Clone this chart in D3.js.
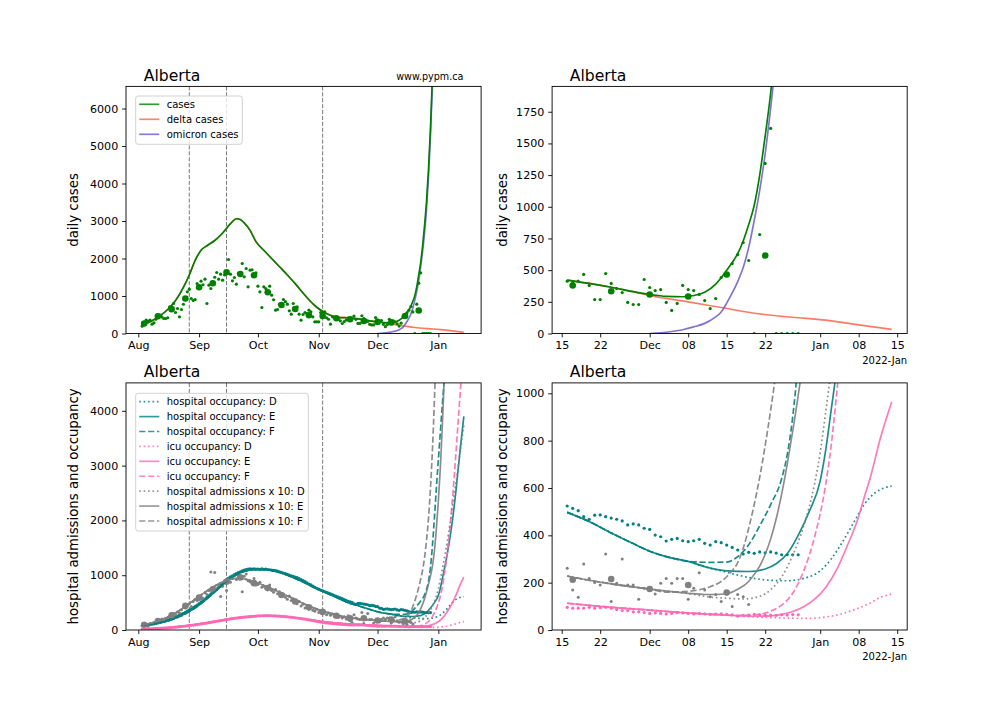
<!DOCTYPE html>
<html><head><meta charset="utf-8">
<script src="https://cdn.jsdelivr.net/npm/d3@7"></script>
<style>body{margin:0;background:#fff}svg{display:block}text{font-family:"DejaVu Sans",sans-serif}</style>
</head><body><svg id="c" width="1008" height="720"></svg>
<script>
// ---------------- DATA ----------------
const region = "Alberta";
const casesStart = "08-03";
const casesDaily = [196,280,356,330,356,249,284,380,462,489,445,400,400,420,711,660,800,560,667,445,640,780,935,1111,1182,933,880,907,1333,
1230,1396,1300,1449,800,1289,1200,1380,1500,1627,1449,1582,1422,1560,1620,1973,1582,1404,1493,1316,1600,1560,1867,1511,1733,1244,1689,1700,1555,1618,
1262,1111,693,1244,1200,1095,1262,1022,900,622,640,782,755,907,850,782,604,516,800,650,711,516,356,507,560,533,622,578,444,311,311,
311,560,540,578,420,380,249,444,420,400,400,338,267,320,360,413,400,413,466,379,268,268,473,395,355,323,245,229,229,426,
363,339,347,245,182,237,379,347,339,308,260,197,276,442,470,552,623,718,576,0,781,1342,1618,0,0,0,0,0];
const casesWeeklyStart = "08-04";
const casesWeekly = [266,461,650,933,1235,1340,1635,1585,1555,1100,760,655,488,465,405,379,334,308,292,466,615];
const casesFit = [["08-03",221],["08-08",340],["08-12",470],["08-16",640],["08-20",880],["08-24",1230],["08-27",1560],["08-30",1950],["09-02",2220],["09-05",2340],["09-09",2480],["09-13",2680],["09-17",2930],["09-20",3060],["09-22",3040],["09-24",2950],["09-27",2750],["09-30",2450],["10-04",2220],["10-08",2000],["10-12",1780],["10-16",1560],["10-20",1330],["10-24",1080],["10-27",900],["10-31",700],["11-04",560],["11-08",465],["11-12",425],["11-16",421],["11-20",395],["11-24",365],["11-28",330]];
const casesTail = [["12-01",308],["12-04",293],["12-07",290],["12-09",300],["12-11",325],["12-13",390],["12-14",440],["12-15",500],["12-16",560],["12-17",630],["12-18",730],["12-19",860],["12-20",1010],["12-21",1250],["12-22",1560],["12-23",1900],["12-24",2350],["12-25",2900],["12-26",3550],["12-27",4400],["12-28",5500],["12-29",6900],["12-30",8600]];
const deltaTail = [["12-01",300],["12-08",250],["12-14",205],["12-20",160],["12-27",128],["01-02",105],["01-08",68],["01-14",32]];
const omicron = [["12-01",0],["12-03",6],["12-05",16],["12-07",30],["12-09",52],["12-11",80],["12-12",102],["12-13",131],["12-14",170],["12-15",240],["12-16",320],["12-17",410],["12-18",520],["12-19",680],["12-20",890],["12-21",1130],["12-22",1420],["12-23",1780],["12-24",2200],["12-25",2700],["12-26",3350],["12-27",4200],["12-28",5300],["12-29",6650],["12-30",8400]];

const hospStart = "08-03";
const hospDaily = [78,84,88,95,100,107,112,120,128,138,150,160,170,182,195,208,222,238,255,274,290,306,324,345,365,388,410,432,455,
480,508,535,565,598,630,660,690,722,752,780,815,850,885,920,945,968,990,1010,1030,1048,1062,1080,1095,1102,1110,1115,1112,1118,1110,
1112,1105,1115,1108,1112,1104,1100,1095,1090,1082,1075,1062,1050,1040,1028,1015,1002,990,978,966,955,938,920,902,885,862,840,822,800,780,762,
745,730,716,702,688,672,658,645,630,615,602,588,572,556,540,524,514,504,479,468,485,486,479,473,468,461,444,448,444,430,
425,401,394,376,383,387,377,373,377,383,366,359,373,369,359,349,338,321,328,324,330,326,330,325,318,318,318,318];
const icuDaily = [15,17,18,20,21,23,25,27,29,31,33,35,38,40,43,46,50,53,56,60,64,68,72,76,80,85,90,95,100,
105,110,116,122,128,134,140,147,154,160,166,172,178,184,190,196,202,208,213,218,222,227,231,235,239,242,245,248,250,252,
258,259,260,261,262,262,261,260,258,256,254,252,249,246,243,240,236,232,228,224,219,214,209,203,197,191,185,179,172,165,158,
152,146,140,135,130,126,122,118,114,111,108,105,102,100,98,96,92,92,92,96,92,94,96,92,87,82,82,77,77,73,
70,72,70,68,70,73,72,70,68,70,68,66,67,68,66,64,58,62,63,66,64,62,63,62,64,63,65,64];
const admDaily = [80,110,95,70,120,105,130,150,140,180,200,160,210,230,250,240,300,280,330,310,370,420,400,450,480,430,520,560,540,
600,620,580,680,650,720,1060,780,1050,740,820,610,800,900,720,930,870,960,990,920,1000,950,700,980,1020,900,880,860,940,820,
830,870,780,800,760,740,820,720,690,740,660,700,630,650,600,560,620,540,570,500,480,520,440,470,400,430,380,420,360,340,380,
320,350,300,330,280,310,270,290,250,270,230,250,220,240,200,261,169,138,279,218,201,190,321,120,197,300,190,190,130,176,
169,152,197,218,197,218,218,130,176,242,169,140,150,120,162,99,150,141,108];
const admWeeklyStart = "08-04";
const admWeekly = [95,165,270,440,590,745,880,960,855,765,640,520,415,330,260,212,215,173,190,158];

const hospFit = [["08-03",90],["08-10",120],["08-17",175],["08-22",245],["08-27",335],["09-01",455],["09-06",600],["09-11",760],["09-15",890],["09-20",1010],["09-25",1080],["09-30",1105],["10-05",1100],["10-10",1070],["10-15",1015],["10-20",940],["10-25",860],["10-30",770],["11-04",690],["11-09",610],["11-13",545],["11-16",497],["11-20",458],["11-24",410],["11-28",365],["12-01",333],["12-04",310],["12-08",290]];
const hospD = [["12-11",267],["12-14",250],["12-17",232],["12-20",218],["12-23",210],["12-26",208],["12-29",218],["01-01",250],["01-03",300],["01-05",370],["01-07",450],["01-09",530],["01-11",580],["01-13",603],["01-14",608]];
const hospE = [["12-11",268],["12-15",250],["12-19",247],["12-22",258],["12-24",280],["12-26",322],["12-28",400],["12-30",500],["01-01",630],["01-02",760],["01-03",930],["01-04",1100],["01-06",1480],["01-08",1950],["01-10",2550],["01-12",3250],["01-14",3900]];
const hospF = [["12-12",286],["12-15",287],["12-17",310],["12-19",360],["12-21",440],["12-23",530],["12-25",640],["12-26",740],["12-27",900],["12-28",1150],["12-29",1550],["12-30",2050],["12-31",2600],["01-01",3100],["01-02",3600],["01-03",4100],["01-04",4550],["01-05",5000]];
const icuFit = [["08-03",18],["08-10",28],["08-17",45],["08-24",72],["08-31",105],["09-07",145],["09-14",188],["09-21",225],["09-28",250],["10-05",260],["10-12",252],["10-19",228],["10-26",195],["11-02",160],["11-09",132],["11-16",113],["11-22",100],["12-01",84],["12-08",72],["12-15",63]];
const icuD = [["12-20",55],["12-25",51],["12-30",49],["01-02",55],["01-04",63],["01-07",84],["01-10",113],["01-12",138],["01-14",152]];
const icuE = [["12-20",58],["12-23",60],["12-25",66],["12-27",78],["12-29",98],["12-31",130],["01-02",180],["01-04",255],["01-06",360],["01-08",480],["01-09",560],["01-10",635],["01-12",815],["01-14",964]];
const icuF = [["12-18",62],["12-21",66],["12-23",80],["12-25",105],["12-27",155],["12-29",250],["12-31",395],["01-02",615],["01-03",780],["01-04",1000],["01-05",1250],["01-06",1550],["01-07",1900],["01-08",2300],["01-09",2750],["01-10",3250],["01-11",3750],["01-12",4250],["01-13",4750],["01-14",5300]];
const admFit = [["08-03",95],["08-08",130],["08-13",190],["08-18",270],["08-23",380],["08-28",510],["09-02",640],["09-07",760],["09-12",860],["09-17",925],["09-21",945],["09-25",925],["09-30",870],["10-05",800],["10-10",720],["10-15",640],["10-20",555],["10-25",470],["10-30",395],["11-04",335],["11-09",285],["11-13",250],["11-16",228],["11-20",210],["11-24",195],["11-28",182],["12-01",173]];
const admD = [["12-05",162],["12-08",155],["12-10",146],["12-12",139],["12-15",134],["12-18",131],["12-21",142],["12-23",170],["12-25",225],["12-27",315],["12-29",440],["12-31",620],["01-01",750],["01-02",920],["01-03",1100],["01-04",1300],["01-05",1500],["01-06",1720],["01-07",1950],["01-08",2200],["01-09",2450],["01-10",2700],["01-11",2950],["01-12",3220],["01-13",3480],["01-14",3740]];
const admE = [["12-05",162],["12-08",155],["12-11",150],["12-13",150],["12-15",153],["12-17",172],["12-19",205],["12-20",235],["12-21",270],["12-22",320],["12-23",385],["12-24",470],["12-25",575],["12-26",700],["12-27",840],["12-28",990],["12-29",1170],["12-30",1450],["12-31",1850],["01-01",2350],["01-02",2950],["01-03",3700],["01-04",4600],["01-05",5600]];
const admF = [["12-04",160],["12-07",162],["12-10",170],["12-12",183],["12-14",205],["12-15",225],["12-16",250],["12-17",285],["12-18",345],["12-19",430],["12-20",530],["12-21",645],["12-22",780],["12-23",930],["12-24",1100],["12-25",1330],["12-26",1650],["12-27",2050],["12-28",2600],["12-29",3300],["12-30",4200],["12-31",5300]];

const eventDates = ["08-27","09-15","11-03"];
const wideTicks = ["08-01","09-01","10-01","11-01","12-01","01-01"];
const wideTickLabels = ["Aug","Sep","Oct","Nov","Dec","Jan"];
const zoomTicks = ["11-15","11-22","12-01","12-08","12-15","12-22","01-01","01-08","01-15"];
const zoomTickLabels = ["15","22","Dec","08","15","22","Jan","08","15"];
const casesWideY = [0,1000,2000,3000,4000,5000,6000];
const casesZoomY = [0,250,500,750,1000,1250,1500,1750];
const hospWideY = [0,1000,2000,3000,4000];
const hospZoomY = [0,200,400,600,800,1000];
const casesLegend = ["cases","delta cases","omicron cases"];
const hospLegend = ["hospital occupancy: D","hospital occupancy: E","hospital occupancy: F","icu occupancy: D","icu occupancy: E","icu occupancy: F","hospital admissions x 10: D","hospital admissions x 10: E","hospital admissions x 10: F"];

// ---------------- HELPERS ----------------
const DAY = 864e5;
const md = s => { const [m, d] = s.split("-").map(Number); return new Date(Date.UTC(m >= 7 ? 2021 : 2022, m - 1, d)); };
const daily = (start, vals) => vals.map((v, i) => ({date: new Date(md(start).getTime() + i * DAY), v}));
const weekly = (start, vals) => vals.map((v, i) => ({date: new Date(md(start).getTime() + i * 7 * DAY), v}));
const knots = arr => arr.map(([s, v]) => ({date: md(s), v}));

const C = {green:"#008000", delta:"#ff6347", omi:"#6a5acd", teal:"#008080", pink:"#ff69b4", grey:"#808080"};
const DASH = {D:"1.67,2.75", E:null, F:"6.2,2.7"};
const W = 355.1, H = 247.1;
const aug1 = Date.UTC(2021,7,1), nov15 = Date.UTC(2021,10,15);
const wideX = [new Date(aug1 - 6.27*DAY), new Date(aug1 + 174.8*DAY)];
const zoomX = [new Date(nov15 - 1.745*DAY), new Date(nov15 + 62.82*DAY)];
const FONT = "DejaVu Sans";
const svg = d3.select("#c");
const zoomStart = md("11-16");

function makePanel(id, left, top, xDom, yMax) {
  const x = d3.scaleUtc().domain(xDom).range([left, left + W]);
  const y = d3.scaleLinear().domain([0, yMax]).range([top + H, top]);
  svg.append("clipPath").attr("id", "clip" + id).append("rect")
    .attr("x", left).attr("y", top).attr("width", W).attr("height", H);
  const plot = svg.append("g").attr("clip-path", `url(#clip${id})`);
  return {id, left, top, x, y, plot};
}
function finishPanel(P, xt, xl, yt, ylabel, labelOff, offsetText) {
  const ax = svg.append("g").attr("transform", `translate(0,${P.top + H})`)
    .call(d3.axisBottom(P.x).tickValues(xt.map(md)).tickFormat((d, i) => xl[i]).tickSize(3.9).tickPadding(3.9).tickSizeOuter(0));
  const ay = svg.append("g").attr("transform", `translate(${P.left},0)`)
    .call(d3.axisLeft(P.y).tickValues(yt).tickFormat(d3.format("d")).tickSize(3.9).tickPadding(3.9).tickSizeOuter(0));
  [ax, ay].forEach(a => {
    a.select(".domain").remove();
    a.attr("font-size", 11.1).attr("font-family", FONT);
    a.selectAll("line").attr("stroke", "#000").attr("stroke-width", 0.9);
    a.selectAll("text").attr("fill", "#000");
  });
  svg.append("rect").attr("x", P.left).attr("y", P.top).attr("width", W).attr("height", H)
    .attr("fill", "none").attr("stroke", "#000").attr("stroke-width", 0.9);
  svg.append("text").attr("x", P.left + 0.05 * W).attr("y", P.top - 5.6)
    .attr("font-size", 15.6).attr("font-family", FONT).text(region);
  svg.append("text").attr("transform", `translate(${P.left - labelOff},${P.top + H / 2}) rotate(-90)`)
    .attr("text-anchor", "middle").attr("font-size", 13.3).attr("font-family", FONT).text(ylabel);
  if (offsetText) svg.append("text").attr("x", P.left + W).attr("y", P.top + H + 30)
    .attr("text-anchor", "end").attr("font-size", 10).attr("font-family", FONT).text(offsetText);
}
function drawLine(P, data, color, dash, opacity, filterZoom) {
  const d = filterZoom ? data.filter(p => p.date >= zoomStart) : data;
  const line = d3.line().x(p => P.x(p.date)).y(p => P.y(p.v)).curve(d3.curveMonotoneX);
  P.plot.append("path").datum(d).attr("d", line).attr("fill", "none")
    .attr("stroke", color).attr("stroke-width", 1.67).attr("stroke-opacity", opacity)
    .attr("stroke-dasharray", dash);
}
function drawDots(P, data, color, r, filterZoom) {
  const d = filterZoom ? data.filter(p => p.date >= zoomStart) : data;
  P.plot.append("g").selectAll("circle").data(d).join("circle")
    .attr("cx", p => P.x(p.date)).attr("cy", p => P.y(p.v)).attr("r", r).attr("fill", color);
}
function drawEvents(P) {
  eventDates.forEach(s => {
    P.plot.append("line").attr("x1", P.x(md(s))).attr("x2", P.x(md(s)))
      .attr("y1", P.top).attr("y2", P.top + H).attr("stroke", "#777").attr("stroke-width", 1)
      .attr("stroke-dasharray", "4.1,1.8");
  });
}
function legend(x0, y0, w, h, row0, dy, items) {
  const g = svg.append("g");
  g.append("rect").attr("x", x0).attr("y", y0).attr("width", w).attr("height", h).attr("rx", 2.5)
    .attr("fill", "#fff").attr("fill-opacity", 0.8).attr("stroke", "#cccccc").attr("stroke-width", 0.9);
  items.forEach((it, i) => {
    const cy = row0 + i * dy;
    g.append("line").attr("x1", x0 + 3.5).attr("x2", x0 + 23.6).attr("y1", cy).attr("y2", cy)
      .attr("stroke", it.color).attr("stroke-width", 1.67).attr("stroke-opacity", 0.8).attr("stroke-dasharray", it.dash);
    g.append("text").attr("x", x0 + 31).attr("y", cy + 3.6).attr("font-size", 10).attr("font-family", FONT).text(it.label);
  });
}

// ---------------- BUILD SERIES ----------------
const cDaily = daily(casesStart, casesDaily);
const cWeekly = weekly(casesWeeklyStart, casesWeekly);
const cLine = knots(casesFit.concat(casesTail));
const dLine = knots(casesFit.concat(deltaTail));
const oLine = knots(omicron);
const hDaily = daily(hospStart, hospDaily);
const iDaily = daily(hospStart, icuDaily);
const aDaily = daily(hospStart, admDaily);
const aWeekly = weekly(admWeeklyStart, admWeekly);
const scen = {
  hosp: {color: C.teal, D: knots(hospFit.concat(hospD)), E: knots(hospFit.concat(hospE)), F: knots(hospFit.concat(hospF))},
  icu: {color: C.pink, D: knots(icuFit.concat(icuD)), E: knots(icuFit.concat(icuE)), F: knots(icuFit.concat(icuF))},
  adm: {color: C.grey, D: knots(admFit.concat(admD)), E: knots(admFit.concat(admE)), F: knots(admFit.concat(admF))}
};

// ---------------- PANELS ----------------
const P1 = makePanel(1, 126, 86.4, wideX, 6590);
const P2 = makePanel(2, 552.1, 86.4, zoomX, 1950);
const P3 = makePanel(3, 126, 382.9, wideX, 4510);
const P4 = makePanel(4, 552.1, 382.9, zoomX, 1044);

[P1, P2].forEach(P => {
  const z = P === P2;
  if (!z) drawEvents(P);
  drawLine(P, dLine, C.delta, null, 0.85, z);
  drawLine(P, oLine, C.omi, null, 0.85, z);
  drawLine(P, cLine, C.green, null, 1, z);
  drawDots(P, cDaily, C.green, 1.6, z);
  drawDots(P, cWeekly, C.green, 3.3, z);
});
[P3, P4].forEach(P => {
  const z = P === P4;
  if (!z) drawEvents(P);
  drawDots(P, hDaily, C.teal, 1.6, z);
  drawDots(P, iDaily, C.pink, 1.6, z);
  drawDots(P, aDaily, C.grey, 1.5, z);
  drawDots(P, aWeekly, C.grey, 3.3, z);
  ["hosp", "icu", "adm"].forEach(k => ["D", "E", "F"].forEach(s => drawLine(P, scen[k][s], scen[k].color, DASH[s], 0.9, z)));
});

finishPanel(P1, wideTicks, wideTickLabels, casesWideY, "daily cases", 48, null);
finishPanel(P2, zoomTicks, zoomTickLabels, casesZoomY, "daily cases", 45.5, "2022-Jan");
finishPanel(P3, wideTicks, wideTickLabels, hospWideY, "hospital admissions and occupancy", 48, null);
finishPanel(P4, zoomTicks, zoomTickLabels, hospZoomY, "hospital admissions and occupancy", 45.5, "2022-Jan");

svg.append("text").attr("x", 126 + 0.95 * W).attr("y", 79.5).attr("text-anchor", "end")
  .attr("font-size", 9.6).attr("font-family", FONT).text("www.pypm.ca");

legend(135.7, 96, 106.6, 48.3, 104.3, 15,
  [{label: casesLegend[0], color: C.green}, {label: casesLegend[1], color: C.delta}, {label: casesLegend[2], color: C.omi}]);
const hItems = [];
["hosp", "icu", "adm"].forEach((k, ki) => ["D", "E", "F"].forEach((s, si) =>
  hItems.push({label: hospLegend[ki * 3 + si], color: scen[k].color, dash: DASH[s]})));
legend(135.7, 393.3, 172.6, 137.7, 401.7, 14.91, hItems);
</script></body></html>
